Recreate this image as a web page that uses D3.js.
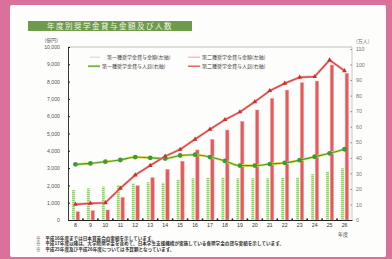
<!DOCTYPE html>
<html>
<head>
<meta charset="utf-8">
<script src="https://cdn.jsdelivr.net/npm/d3@7"></script>
<style>
  html, body { margin: 0; padding: 0; background: #d9719a; }
  svg { display: block; font-family: "Noto Sans CJK JP", "Noto Sans", sans-serif; }
</style>
</head>
<body>
<div id="chart"></div>
<script>
// 年度 (平成)
const years = ["8", "9", "10", "11", "12", "13", "14", "15", "16", "17", "18", "19", "20", "21", "22", "23", "24", "25", "26"];
// 貸与金額 (億円, 左軸)
const firstAmount = [1730, 1830, 1930, 2020, 2120, 2180, 2150, 2310, 2410, 2450, 2450, 2410, 2410, 2410, 2430, 2450, 2650, 2800, 2990];
const secondAmount = [480, 540, 580, 1310, 1980, 2450, 2930, 3400, 4050, 4660, 5200, 5700, 6360, 7030, 7510, 7940, 8030, 8960, 8480];
// 貸与人員 (万人, 右軸)
const firstPeople = [35.8, 36.4, 37.5, 38.6, 40.5, 40.0, 39.5, 41.5, 42.0, 40.5, 38.0, 35.0, 35.0, 36.0, 36.8, 38.5, 40.7, 42.9, 45.5];
const secondPeople = [10.1, 10.7, 11.1, 20.4, 28.9, 35.0, 41.0, 45.4, 51.9, 58.3, 64.5, 69.5, 76.0, 83.2, 87.9, 91.8, 92.2, 102.9, 96.0];

const leftTicks = d3.range(0, 10001, 1000);
const rightTicks = d3.range(0, 111, 10);

const title = "年度別奨学金貸与金額及び人数";
const legendItems = [
  { label: "第一種奨学金貸与金額(左軸)", type: "bar1" },
  { label: "第二種奨学金貸与金額(左軸)", type: "bar2" },
  { label: "第一種奨学金貸与人員(右軸)", type: "line1" },
  { label: "第二種奨学金貸与人員(右軸)", type: "line2" }
];
const notes = [
  "※　平成16年度までは日本育英会の実績を示しています。",
  "※　平成17年度以降は、大学院奨学金を含めて、日本学生支援機構が実施している各奨学金の貸与実績を示しています。",
  "※　平成25年度及び平成26年度については予算額となっています。"
];

const width = 392, height = 259;
const margin = { top: 47, right: 40, bottom: 39, left: 68 };

const svg = d3.select("#chart").append("svg")
  .attr("width", width)
  .attr("height", height);

// white card
svg.append("rect")
  .attr("x", 10).attr("y", 5)
  .attr("width", 376).attr("height", 252)
  .attr("rx", 2)
  .attr("fill", "#fdfdfb");

// stripes for the first type bars
const defs = svg.append("defs");
const pat = defs.append("pattern")
  .attr("id", "dots")
  .attr("patternUnits", "userSpaceOnUse")
  .attr("width", 3).attr("height", 2);
pat.append("rect").attr("width", 3).attr("height", 2).attr("fill", "#cfe9b8");
pat.append("rect").attr("width", 3).attr("height", 1).attr("fill", "#8fcf6e");

// title banner
const titleG = svg.append("g");
titleG.append("rect")
  .attr("x", 28).attr("y", 21)
  .attr("width", 164).attr("height", 10)
  .attr("fill", "#6e9a4c");
titleG.append("text")
  .attr("x", 110).attr("y", 29)
  .attr("text-anchor", "middle")
  .attr("font-size", 7.5)
  .attr("fill", "#eef3e6")
  .attr("letter-spacing", 1.5)
  .text(title);

const x0 = margin.left, x1 = width - margin.right;
const yTop = margin.top, yBottom = height - margin.bottom;

const x = d3.scaleBand()
  .domain(years)
  .range([x0, x1])
  .padding(0);

const xSub = d3.scaleBand()
  .domain(["first", "second"])
  .range([0, x.bandwidth()])
  .paddingInner(0.3)
  .paddingOuter(1.0);

const yLeft = d3.scaleLinear().domain([0, 10000]).range([yBottom, yTop]);
const yRight = d3.scaleLinear().domain([0, 110]).range([yBottom, yTop + 2]);

// frame
svg.append("line")
  .attr("x1", x0).attr("x2", x1).attr("y1", yTop).attr("y2", yTop)
  .attr("stroke", "#999").attr("stroke-width", 0.6);
svg.append("line")
  .attr("x1", x1).attr("x2", x1).attr("y1", yTop).attr("y2", yBottom)
  .attr("stroke", "#aaa").attr("stroke-width", 0.6);

// bars
const barG = svg.append("g");
barG.selectAll("rect.first")
  .data(years)
  .join("rect")
  .attr("class", "first")
  .attr("x", (d) => x(d) + xSub("first"))
  .attr("width", xSub.bandwidth())
  .attr("y", (d, i) => yLeft(firstAmount[i]))
  .attr("height", (d, i) => yBottom - yLeft(firstAmount[i]))
  .attr("fill", "url(#dots)");

barG.selectAll("rect.second")
  .data(years)
  .join("rect")
  .attr("class", "second")
  .attr("x", (d) => x(d) + xSub("second"))
  .attr("width", xSub.bandwidth() + 0.6)
  .attr("y", (d, i) => yLeft(secondAmount[i]))
  .attr("height", (d, i) => yBottom - yLeft(secondAmount[i]))
  .attr("fill", "#e65a5c")
  .attr("stroke", "#f3a3a3")
  .attr("stroke-width", 0.5);

// lines
const cx = (d) => x(d) + x.bandwidth() / 2;

const lineFirst = d3.line()
  .x((d, i) => cx(years[i]))
  .y((d) => yRight(d))
  .curve(d3.curveMonotoneX);
const lineSecond = d3.line()
  .x((d, i) => cx(years[i]))
  .y((d) => yRight(d));

svg.append("path")
  .datum(firstPeople)
  .attr("d", lineFirst)
  .attr("fill", "none")
  .attr("stroke", "#e3e25a")
  .attr("stroke-width", 2.6);
svg.append("path")
  .datum(firstPeople)
  .attr("d", lineFirst)
  .attr("fill", "none")
  .attr("stroke", "#3c9a3c")
  .attr("stroke-width", 1.1);
svg.append("g").selectAll("circle")
  .data(firstPeople)
  .join("circle")
  .attr("cx", (d, i) => cx(years[i]))
  .attr("cy", (d) => yRight(d))
  .attr("r", 2.4)
  .attr("fill", "#3f9a35");

svg.append("path")
  .datum(secondPeople)
  .attr("d", lineSecond)
  .attr("fill", "none")
  .attr("stroke", "#f2a0a0")
  .attr("stroke-width", 2.4);
svg.append("path")
  .datum(secondPeople)
  .attr("d", lineSecond)
  .attr("fill", "none")
  .attr("stroke", "#d9433f")
  .attr("stroke-width", 1.2);
svg.append("g").selectAll("path.tri")
  .data(secondPeople)
  .join("path")
  .attr("class", "tri")
  .attr("d", d3.symbol(d3.symbolTriangle, 10))
  .attr("transform", (d, i) => `translate(${cx(years[i])},${yRight(d)})`)
  .attr("fill", "#cf2f2c");

// axes
const leftAxis = svg.append("g")
  .attr("transform", `translate(${x0},0)`)
  .call(d3.axisLeft(yLeft).tickValues(leftTicks).tickSize(-2).tickPadding(8)
    .tickFormat((d) => d3.format(",")(d)));
leftAxis.select(".domain").attr("stroke", "#222").attr("stroke-width", 0.9);
leftAxis.selectAll(".tick line").attr("stroke", "#222").attr("stroke-width", 1);
leftAxis.selectAll("text").attr("font-size", 5.2).attr("fill", "#555");

const rightAxis = svg.append("g")
  .attr("transform", `translate(${x1},0)`)
  .call(d3.axisRight(yRight).tickValues(rightTicks).tickSize(-1.5).tickPadding(4));
rightAxis.select(".domain").remove();
rightAxis.selectAll(".tick line").attr("stroke", "#888");
rightAxis.selectAll("text").attr("font-size", 5.2).attr("fill", "#777").attr("text-anchor", "start");

const bottomAxis = svg.append("g")
  .attr("transform", `translate(0,${yBottom})`)
  .call(d3.axisBottom(x).tickSize(0).tickPadding(3));
bottomAxis.select(".domain").attr("stroke", "#222").attr("stroke-width", 1);
bottomAxis.selectAll("text").attr("font-size", 5.2).attr("fill", "#333");

// small marks between the years on the base line
svg.append("g").selectAll("rect.mark")
  .data(years.slice(1))
  .join("rect")
  .attr("class", "mark")
  .attr("x", (d) => x(d) - 0.8)
  .attr("y", yBottom - 1.6)
  .attr("width", 1.6).attr("height", 1.6)
  .attr("fill", "#223");

// units
svg.append("text").attr("x", 58).attr("y", 42).attr("text-anchor", "end")
  .attr("font-size", 5).attr("fill", "#555").text("(億円)");
svg.append("text").attr("x", 356).attr("y", 43)
  .attr("font-size", 5).attr("fill", "#777").text("(万人)");
svg.append("text").attr("x", 343).attr("y", 235.5).attr("text-anchor", "middle")
  .attr("font-size", 5).attr("fill", "#333").text("年度");

// legend
const legend = svg.append("g");
const legendPos = [[88, 59], [188, 59], [88, 68], [188, 68]];
legendItems.forEach((item, i) => {
  const [lx, ly] = legendPos[i];
  const g = legend.append("g").attr("transform", `translate(${lx},${ly})`);
  if (item.type === "bar1") {
    g.append("line").attr("x1", 2).attr("x2", 12).attr("y1", -1.8).attr("y2", -1.8)
      .attr("stroke", "#cde8bb").attr("stroke-width", 1.2);
  } else if (item.type === "bar2") {
    g.append("line").attr("x1", 0).attr("x2", 12).attr("y1", -1.8).attr("y2", -1.8)
      .attr("stroke", "#f1a3a6").attr("stroke-width", 1);
  } else if (item.type === "line1") {
    g.append("line").attr("x1", 0).attr("x2", 12).attr("y1", -1.8).attr("y2", -1.8)
      .attr("stroke", "#d6dc50").attr("stroke-width", 2.2);
    g.append("line").attr("x1", 0).attr("x2", 12).attr("y1", -1.8).attr("y2", -1.8)
      .attr("stroke", "#3c9a3c").attr("stroke-width", 0.9);
  } else {
    g.append("line").attr("x1", 0).attr("x2", 12).attr("y1", -1.8).attr("y2", -1.8)
      .attr("stroke", "#d9433f").attr("stroke-width", 1.2);
  }
  g.append("text")
    .attr("x", item.type === "bar1" ? 19 : 14)
    .attr("y", 0)
    .attr("font-size", 5)
    .attr("fill", "#444")
    .text(item.label);
});

// notes
svg.append("g").selectAll("text")
  .data(notes)
  .join("text")
  .attr("x", 36)
  .attr("y", (d, i) => 240 + i * 5.4)
  .attr("font-size", 4.6)
  .attr("font-weight", "bold")
  .attr("fill", "#333")
  .text((d) => d);
</script>
</body>
</html>
